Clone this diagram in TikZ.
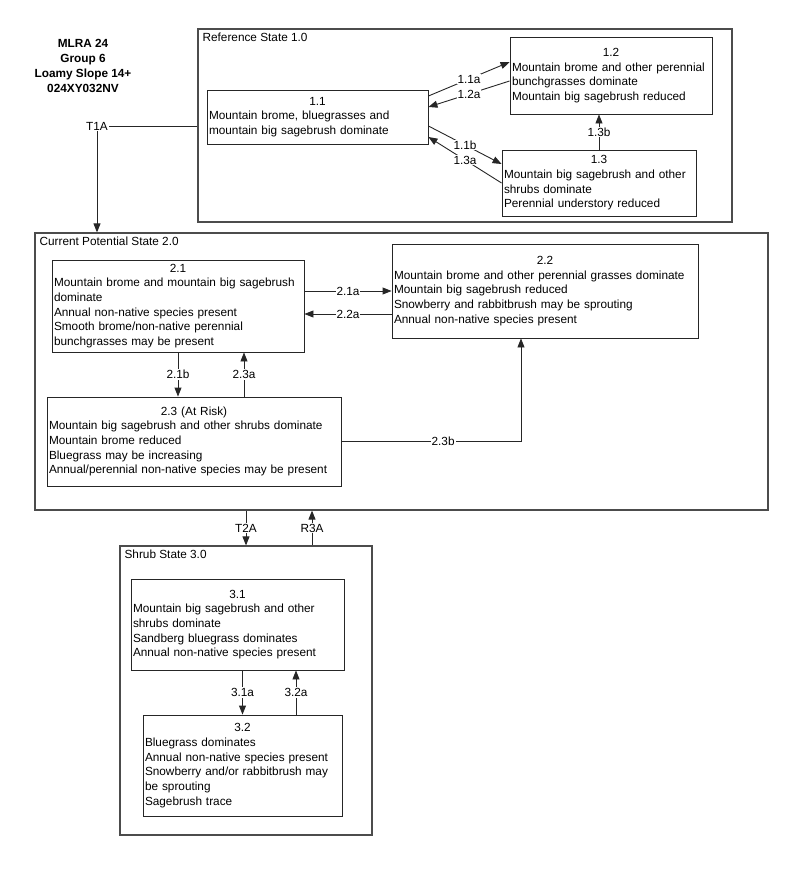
\documentclass[tikz,border=0pt]{standalone}
\usepackage{fontspec}
\setmainfont{Liberation Sans}
\usepackage{tikz}
\usetikzlibrary{arrows.meta,positioning,calc}
\setlength{\parindent}{0pt}
\hyphenpenalty=10000
\exhyphenpenalty=10000
\newcommand{\boxfont}{\fontsize{11.8}{14.7}\selectfont}
\newcommand{\phtitle}[1]{{\centering #1\par}}

\begin{document}
\begin{tikzpicture}[x=1pt,y=-1pt,
    statebox/.style 2 args={draw=black!70,line width=1.2pt,minimum width=#1,minimum height=#2,inner sep=0pt},
    phase/.style 2 args={draw=black!85,line width=0.9pt,text width=#1,minimum height=#2,inner xsep=2pt,inner ysep=2pt,align=left,font=\boxfont},
    statettl/.style={anchor=north west,inner xsep=5pt,inner ysep=4pt,font=\boxfont},
    lbl/.style={fill=white,inner sep=1pt,font=\boxfont},
    conn/.style={line width=0.9pt,draw=black!85},
    arr/.style={conn,-{Triangle[length=9pt,width=7pt]}}]
        \useasboundingbox (0,0) rectangle (800,891);

        \node[align=center,font=\bfseries\fontsize{11.8}{15}\selectfont] (mlra) at (83,66) {MLRA 24\\Group 6\\Loamy Slope 14+\\024XY032NV};

        \node[statebox={534}{193}] (ref) at (465,125.5) {};
        \node[statettl] (ref-t) at (ref.north west) {Reference State 1.0};
        \node[phase={217}{54}] (s11) at (317.5,117) {\phtitle{1.1}Mountain brome, bluegrasses and\\mountain big sagebrush dominate};
        \node[phase={198}{77}] (s12) at (611,75.5) {\phtitle{1.2}Mountain brome and other perennial\\bunchgrasses dominate\\Mountain big sagebrush reduced};
        \node[phase={190}{66}] (s13) at (599,183) {\phtitle{1.3}Mountain big sagebrush and other\\shrubs dominate\\Perennial understory reduced};

        \node[statebox={733}{277}] (cps) at (401.5,371.5) {};
        \node[statettl] (cps-t) at (cps.north west) {Current Potential State 2.0};
        \node[phase={248}{92}] (s21) at (178,306) {\phtitle{2.1}Mountain brome and mountain big sagebrush\\dominate\\Annual non-native species present\\Smooth brome/non-native perennial\\bunchgrasses may be present};
        \node[phase={302}{94}] (s22) at (545,291) {\phtitle{2.2}Mountain brome and other perennial grasses dominate\\Mountain big sagebrush reduced\\Snowberry and rabbitbrush may be sprouting\\Annual non-native species present};
        \node[phase={290}{89}] (s23) at (194,441.5) {\phtitle{2.3 (At Risk)}Mountain big sagebrush and other shrubs dominate\\Mountain brome reduced\\Bluegrass may be increasing\\Annual/perennial non-native species may be present};

        \node[statebox={252}{289}] (shrub) at (246,690.5) {};
        \node[statettl] (shrub-t) at (shrub.north west) {Shrub State 3.0};
        \node[phase={209}{91}] (s31) at (237.5,624.5) {\phtitle{3.1}Mountain big sagebrush and other\\shrubs dominate\\Sandberg bluegrass dominates\\Annual non-native species present};
        \node[phase={195}{101}] (s32) at (242.5,765.5) {\phtitle{3.2}Bluegrass dominates\\Annual non-native species present\\Snowberry and/or rabbitbrush may\\be sprouting\\Sagebrush trace};

        \draw[arr] ([yshift=21pt]s11.east) -- ([yshift=13.5pt]s12.west) node[midway,lbl] {1.1a};
        \draw[arr] ([yshift=-5.5pt]s12.west) -- ([yshift=10pt]s11.east) node[midway,lbl] {1.2a};
        \draw[arr] ([yshift=-9pt]s11.east) -- ([yshift=19pt]s13.west) node[midway,lbl] {1.1b};
        \draw[arr] (s13.west) -- ([yshift=-20pt]s11.east) node[midway,lbl] {1.3a};
        \draw[arr] (s13.north) -- (s13.north |- s12.south) node[midway,lbl] {1.3b};

        \coordinate (t1a) at (97,126);
        \draw[arr] (ref.west |- t1a) -- (t1a) node[lbl] {T1A} -- (t1a |- cps.north);

        \draw[arr] ([yshift=15pt]s21.east) -- ([yshift=15pt]s21.east -| s22.west) node[midway,lbl] {2.1a};
        \draw[arr] ([yshift=-8pt]s21.east -| s22.west) -- ([yshift=-8pt]s21.east) node[midway,lbl] {2.2a};
        \draw[arr] (s21.south) -- (s23.north -| s21.south) node[midway,lbl] {2.1b};
        \draw[arr] (s23.north -| 244,0) -- (s21.south -| 244,0) node[midway,lbl] {2.3a};
        \draw[arr] (s23.east) -| (s22.south -| 521,0) node[pos=0.283,lbl] {2.3b};

        \draw[arr] (cps.south -| shrub.north) -- (shrub.north) node[midway,lbl] {T2A};
        \draw[arr] (shrub.north -| 312,0) -- (cps.south -| 312,0) node[midway,lbl] {R3A};

        \draw[arr] (s31.south -| s32.north) -- (s32.north) node[midway,lbl] {3.1a};
        \draw[arr] (s32.north -| 296,0) -- (s31.south -| 296,0) node[midway,lbl] {3.2a};
      \end{tikzpicture}
\end{document}
